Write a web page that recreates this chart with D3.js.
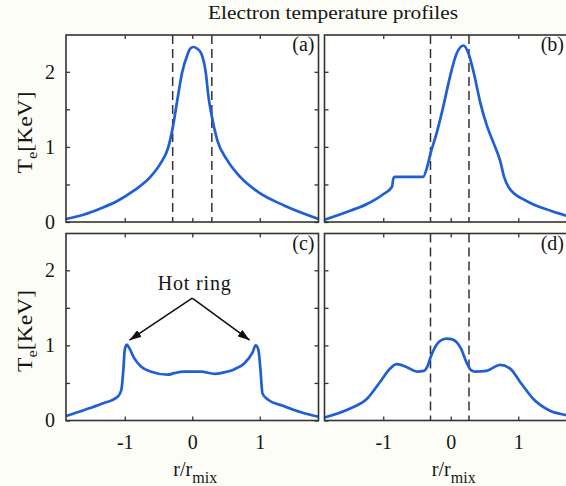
<!DOCTYPE html>
<html>
<head>
<meta charset="utf-8">
<title>Electron temperature profiles</title>
<style>
  html, body { margin: 0; padding: 0; background: #fdfdf8; overflow: hidden; }
  svg { display: block; }
  text { font-family: "Liberation Serif", "Times New Roman", serif; fill: #151515; }
  .tick line { stroke: #333; stroke-width: 1.3; }
  .tick text { font-size: 20px; fill: #151515; }
</style>
<script src="https://cdn.jsdelivr.net/npm/d3@7"></script>
</head>
<body>
<svg id="chart"></svg>
<script>
// profile (a)
const aX = [-1.87, -1.60, -1.36, -1.11, -0.86, -0.62, -0.47, -0.36, -0.29, -0.22, -0.15, -0.07, -0.03, 0.02, 0.07, 0.13, 0.20, 0.24, 0.28, 0.37, 0.52, 0.71, 0.99, 1.36, 1.87];
const aY = [0.04, 0.10, 0.18, 0.28, 0.42, 0.60, 0.78, 0.98, 1.25, 1.63, 1.99, 2.23, 2.31, 2.33, 2.31, 2.25, 1.99, 1.67, 1.45, 1.09, 0.82, 0.60, 0.39, 0.22, 0.04];
// profile (b)
const bX = [-1.87, -1.49, -1.24, -1.00, -0.87, -0.85, -0.83, -0.41, -0.35, -0.30, -0.21, -0.11, -0.01, 0.09, 0.19, 0.26, 0.34, 0.44, 0.54, 0.64, 0.73, 0.79, 0.86, 1.12, 1.48, 1.72, 1.87];
const bY = [0.03, 0.15, 0.24, 0.37, 0.47, 0.58, 0.60, 0.60, 0.73, 0.91, 1.18, 1.54, 1.94, 2.25, 2.35, 2.25, 1.99, 1.58, 1.27, 1.04, 0.82, 0.60, 0.46, 0.28, 0.15, 0.08, 0.03];
// profile (c)
const cX = [-1.87, -1.60, -1.35, -1.10, -1.05, -1.02, -1.00, -0.97, -0.93, -0.86, -0.76, -0.61, -0.36, -0.27, -0.12, 0.13, 0.33, 0.47, 0.62, 0.77, 0.89, 0.94, 0.98, 1.01, 1.04, 1.12, 1.36, 1.61, 1.87];
const cY = [0.06, 0.14, 0.22, 0.32, 0.41, 0.68, 0.94, 1.01, 0.96, 0.83, 0.72, 0.65, 0.61, 0.63, 0.65, 0.65, 0.62, 0.64, 0.68, 0.76, 0.90, 1.00, 0.94, 0.68, 0.36, 0.28, 0.19, 0.11, 0.05];
// profile (d)
const dX = [-1.87, -1.49, -1.24, -1.05, -0.90, -0.80, -0.65, -0.50, -0.40, -0.35, -0.30, -0.21, -0.14, -0.06, 0.02, 0.09, 0.15, 0.24, 0.30, 0.36, 0.53, 0.64, 0.73, 0.88, 1.03, 1.22, 1.47, 1.72, 1.87];
const dY = [0.04, 0.16, 0.29, 0.51, 0.69, 0.75, 0.71, 0.65, 0.66, 0.71, 0.84, 1.01, 1.07, 1.09, 1.08, 1.04, 0.96, 0.76, 0.67, 0.65, 0.66, 0.71, 0.74, 0.69, 0.51, 0.29, 0.13, 0.07, 0.04];

// dashed marker lines (r/rmix)
const dashA = [-0.29, 0.29];
const dashB = [-0.30, 0.27];
const dashD = [-0.30, 0.27];

const xTicks = [-1, 0, 1];
const yTicks = [0, 0.5, 1, 1.5, 2];
const panelNames = ["(a)", "(b)", "(c)", "(d)"];

const W = 566, H = 486;
const pw = 252.5, ph = 187;

const svg = d3.select("#chart").attr("width", W).attr("height", H);

const x = d3.scaleLinear().domain([-1.87, 1.87]).range([0, pw]);
const y = d3.scaleLinear().domain([0, 2.49]).range([ph, 0]);

const panels = [
  { name: panelNames[0], left: 66, top: 35, xs: aX, ys: aY, dash: dashA, yLab: true, xLab: false },
  { name: panelNames[1], left: 324.5, top: 35, xs: bX, ys: bY, dash: dashB, yLab: false, xLab: false },
  { name: panelNames[2], left: 66, top: 233.5, xs: cX, ys: cY, dash: [], yLab: true, xLab: true },
  { name: panelNames[3], left: 324.5, top: 233.5, xs: dX, ys: dY, dash: dashD, yLab: false, xLab: true }
];

const line = d3.line()
  .x(d => x(d[0]))
  .y(d => y(d[1]))
  .curve(d3.curveMonotoneX);

svg.append("defs").append("marker")
  .attr("id", "arrow")
  .attr("viewBox", "0 0 12 8")
  .attr("refX", 12).attr("refY", 4)
  .attr("markerWidth", 12).attr("markerHeight", 8)
  .attr("markerUnits", "userSpaceOnUse")
  .attr("orient", "auto")
  .append("path")
  .attr("d", "M0,0 L12,4 L0,8 Z")
  .attr("fill", "#111");

panels.forEach(p => {
  const g = svg.append("g").attr("transform", `translate(${p.left},${p.top})`);

  g.append("rect")
    .attr("width", pw).attr("height", ph)
    .attr("fill", "#fff");

  // ticks on all four sides, pointing inward
  const fmtY = d => (p.yLab && Number.isInteger(d)) ? String(d) : "";
  const fmtX = d => p.xLab ? String(d) : "";
  const axes = [
    g.append("g").call(d3.axisLeft(y).tickValues(yTicks).tickSize(-4).tickPadding(11).tickFormat(fmtY)),
    g.append("g").attr("transform", `translate(${pw},0)`).call(d3.axisRight(y).tickValues(yTicks).tickSize(-4).tickFormat("")),
    g.append("g").attr("transform", `translate(0,${ph})`).call(d3.axisBottom(x).tickValues(xTicks).tickSize(-4).tickPadding(14).tickFormat(fmtX)),
    g.append("g").call(d3.axisTop(x).tickValues(xTicks).tickSize(-4).tickFormat(""))
  ];
  axes.forEach(a => { a.select(".domain").remove(); a.attr("font-family", null).attr("font-size", null); });

  g.selectAll(".dash")
    .data(p.dash)
    .enter().append("line")
    .attr("class", "dash")
    .attr("x1", d => x(d)).attr("x2", d => x(d))
    .attr("y1", 0).attr("y2", ph)
    .attr("stroke", "#333")
    .attr("stroke-width", 1.5)
    .attr("stroke-dasharray", "9,5");

  g.append("path")
    .datum(d3.zip(p.xs, p.ys))
    .attr("d", line)
    .attr("fill", "none")
    .attr("stroke", "#1f5fd3")
    .attr("stroke-width", 2.7)
    .attr("stroke-linejoin", "round");

  g.append("rect")
    .attr("width", pw).attr("height", ph)
    .attr("fill", "none")
    .attr("stroke", "#333")
    .attr("stroke-width", 1.6);

  // panel tag, kept inside the visible window
  const tagRight = Math.min(pw - 4, W - 2 - p.left);
  g.append("text")
    .attr("x", tagRight).attr("y", 16)
    .attr("text-anchor", "end")
    .attr("font-size", 20)
    .text(p.name);

  if (p.yLab) {
    const t = g.append("text")
      .attr("transform", `translate(-34,${ph / 2 + 4}) rotate(-90)`)
      .attr("text-anchor", "middle")
      .attr("font-size", 20)
      .attr("textLength", 82)
      .attr("lengthAdjust", "spacingAndGlyphs");
    t.append("tspan").text("T");
    t.append("tspan").attr("font-size", 14).attr("dy", 5).text("e");
    t.append("tspan").attr("dy", -5).text("[KeV]");
  }

  if (p.xLab) {
    const t = g.append("text")
      .attr("x", pw / 2 + 3).attr("y", ph + 55)
      .attr("text-anchor", "middle")
      .attr("font-size", 20);
    t.append("tspan").text("r/r");
    t.append("tspan").attr("font-size", 16).attr("dy", 7).text("mix");
  }

  if (p.name === "(c)") {
    g.append("text")
      .attr("x", x(0.03)).attr("y", y(1.74))
      .attr("text-anchor", "middle")
      .attr("font-size", 20)
      .attr("textLength", 73)
      .text("Hot ring");
    [[-0.93, 1.07], [0.85, 1.07]].forEach(e => {
      g.append("line")
        .attr("x1", x(0.0)).attr("y1", y(1.63))
        .attr("x2", x(e[0])).attr("y2", y(e[1]))
        .attr("stroke", "#111")
        .attr("stroke-width", 1.6)
        .attr("marker-end", "url(#arrow)");
    });
  }
});

svg.append("text")
  .attr("x", 333).attr("y", 19)
  .attr("text-anchor", "middle")
  .attr("font-size", 19)
  .attr("textLength", 250)
  .attr("lengthAdjust", "spacingAndGlyphs")
  .text("Electron temperature profiles");
</script>
</body>
</html>
